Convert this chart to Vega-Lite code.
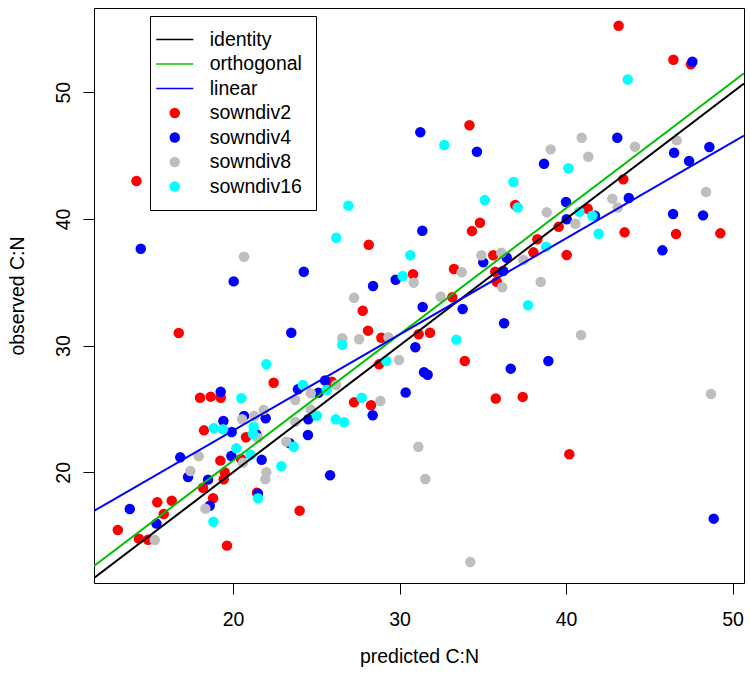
{
  "$schema": "https://vega.github.io/schema/vega-lite/v6.json",
  "width": 650,
  "height": 575,
  "autosize": {"type": "none"},
  "padding": {"left": 94, "top": 8, "right": 6, "bottom": 91},
  "background": "white",
  "config": {
    "view": {"stroke": "black", "strokeWidth": 1},
    "font": "Liberation Sans"
  },
  "datasets": {
    "points": [
      {"x": 14.2, "y": 43.0, "series": "sowndiv2"},
      {"x": 34.2, "y": 47.4, "series": "sowndiv2"},
      {"x": 36.95, "y": 41.1, "series": "sowndiv2"},
      {"x": 43.16, "y": 55.25, "series": "sowndiv2"},
      {"x": 46.45, "y": 52.57, "series": "sowndiv2"},
      {"x": 47.5, "y": 52.2, "series": "sowndiv2"},
      {"x": 43.44, "y": 43.13, "series": "sowndiv2"},
      {"x": 41.3, "y": 40.8, "series": "sowndiv2"},
      {"x": 39.56, "y": 39.38, "series": "sowndiv2"},
      {"x": 38.28, "y": 38.39, "series": "sowndiv2"},
      {"x": 38.04, "y": 37.36, "series": "sowndiv2"},
      {"x": 40.04, "y": 37.15, "series": "sowndiv2"},
      {"x": 43.52, "y": 38.94, "series": "sowndiv2"},
      {"x": 46.61, "y": 38.81, "series": "sowndiv2"},
      {"x": 49.27, "y": 38.86, "series": "sowndiv2"},
      {"x": 37.4, "y": 25.95, "series": "sowndiv2"},
      {"x": 40.2, "y": 21.42, "series": "sowndiv2"},
      {"x": 24.0, "y": 16.97, "series": "sowndiv2"},
      {"x": 27.27, "y": 25.52, "series": "sowndiv2"},
      {"x": 28.29, "y": 25.29, "series": "sowndiv2"},
      {"x": 35.78, "y": 25.82, "series": "sowndiv2"},
      {"x": 18.02, "y": 25.89, "series": "sowndiv2"},
      {"x": 18.66, "y": 25.97, "series": "sowndiv2"},
      {"x": 19.26, "y": 25.89, "series": "sowndiv2"},
      {"x": 18.26, "y": 23.31, "series": "sowndiv2"},
      {"x": 20.78, "y": 22.76, "series": "sowndiv2"},
      {"x": 20.48, "y": 21.05, "series": "sowndiv2"},
      {"x": 19.24, "y": 20.92, "series": "sowndiv2"},
      {"x": 19.5, "y": 20.0, "series": "sowndiv2"},
      {"x": 19.44, "y": 19.45, "series": "sowndiv2"},
      {"x": 18.2, "y": 18.78, "series": "sowndiv2"},
      {"x": 18.8, "y": 17.95, "series": "sowndiv2"},
      {"x": 19.64, "y": 14.21, "series": "sowndiv2"},
      {"x": 21.44, "y": 18.39, "series": "sowndiv2"},
      {"x": 15.45, "y": 17.63, "series": "sowndiv2"},
      {"x": 16.32, "y": 17.76, "series": "sowndiv2"},
      {"x": 15.84, "y": 16.71, "series": "sowndiv2"},
      {"x": 13.08, "y": 15.45, "series": "sowndiv2"},
      {"x": 14.35, "y": 14.76, "series": "sowndiv2"},
      {"x": 14.9, "y": 14.68, "series": "sowndiv2"},
      {"x": 16.74, "y": 31.0, "series": "sowndiv2"},
      {"x": 22.44, "y": 27.07, "series": "sowndiv2"},
      {"x": 34.83, "y": 39.7, "series": "sowndiv2"},
      {"x": 34.35, "y": 39.04, "series": "sowndiv2"},
      {"x": 28.15, "y": 37.96, "series": "sowndiv2"},
      {"x": 30.81, "y": 35.63, "series": "sowndiv2"},
      {"x": 27.79, "y": 32.75, "series": "sowndiv2"},
      {"x": 28.11, "y": 31.18, "series": "sowndiv2"},
      {"x": 28.91, "y": 30.62, "series": "sowndiv2"},
      {"x": 31.15, "y": 30.89, "series": "sowndiv2"},
      {"x": 31.83, "y": 31.02, "series": "sowndiv2"},
      {"x": 33.17, "y": 33.81, "series": "sowndiv2"},
      {"x": 33.27, "y": 36.05, "series": "sowndiv2"},
      {"x": 35.63, "y": 37.13, "series": "sowndiv2"},
      {"x": 35.75, "y": 35.83, "series": "sowndiv2"},
      {"x": 35.84, "y": 35.04, "series": "sowndiv2"},
      {"x": 33.92, "y": 28.78, "series": "sowndiv2"},
      {"x": 28.77, "y": 28.52, "series": "sowndiv2"},
      {"x": 25.93, "y": 27.15, "series": "sowndiv2"},

      {"x": 31.25, "y": 46.84, "series": "sowndiv4"},
      {"x": 34.65, "y": 45.3, "series": "sowndiv4"},
      {"x": 47.59, "y": 52.41, "series": "sowndiv4"},
      {"x": 43.08, "y": 46.41, "series": "sowndiv4"},
      {"x": 38.68, "y": 44.36, "series": "sowndiv4"},
      {"x": 46.49, "y": 45.23, "series": "sowndiv4"},
      {"x": 48.61, "y": 45.68, "series": "sowndiv4"},
      {"x": 47.39, "y": 44.57, "series": "sowndiv4"},
      {"x": 40.0, "y": 41.34, "series": "sowndiv4"},
      {"x": 43.77, "y": 41.65, "series": "sowndiv4"},
      {"x": 41.74, "y": 40.25, "series": "sowndiv4"},
      {"x": 40.04, "y": 39.97, "series": "sowndiv4"},
      {"x": 46.43, "y": 40.39, "series": "sowndiv4"},
      {"x": 48.23, "y": 40.28, "series": "sowndiv4"},
      {"x": 45.79, "y": 37.52, "series": "sowndiv4"},
      {"x": 38.94, "y": 28.78, "series": "sowndiv4"},
      {"x": 48.87, "y": 16.34, "series": "sowndiv4"},
      {"x": 25.83, "y": 19.76, "series": "sowndiv4"},
      {"x": 24.5, "y": 22.94, "series": "sowndiv4"},
      {"x": 24.52, "y": 24.18, "series": "sowndiv4"},
      {"x": 28.39, "y": 24.5, "series": "sowndiv4"},
      {"x": 30.37, "y": 26.3, "series": "sowndiv4"},
      {"x": 19.26, "y": 26.35, "series": "sowndiv4"},
      {"x": 19.42, "y": 24.05, "series": "sowndiv4"},
      {"x": 19.92, "y": 23.18, "series": "sowndiv4"},
      {"x": 20.66, "y": 24.45, "series": "sowndiv4"},
      {"x": 21.96, "y": 24.26, "series": "sowndiv4"},
      {"x": 21.4, "y": 23.0, "series": "sowndiv4"},
      {"x": 19.9, "y": 21.29, "series": "sowndiv4"},
      {"x": 21.72, "y": 20.98, "series": "sowndiv4"},
      {"x": 23.4, "y": 22.3, "series": "sowndiv4"},
      {"x": 16.83, "y": 21.18, "series": "sowndiv4"},
      {"x": 17.3, "y": 19.63, "series": "sowndiv4"},
      {"x": 18.5, "y": 19.42, "series": "sowndiv4"},
      {"x": 18.6, "y": 17.36, "series": "sowndiv4"},
      {"x": 21.5, "y": 18.3, "series": "sowndiv4"},
      {"x": 15.4, "y": 15.95, "series": "sowndiv4"},
      {"x": 13.8, "y": 17.1, "series": "sowndiv4"},
      {"x": 14.46, "y": 37.65, "series": "sowndiv4"},
      {"x": 20.04, "y": 35.07, "series": "sowndiv4"},
      {"x": 24.25, "y": 35.83, "series": "sowndiv4"},
      {"x": 23.5, "y": 31.02, "series": "sowndiv4"},
      {"x": 23.9, "y": 26.55, "series": "sowndiv4"},
      {"x": 31.37, "y": 39.07, "series": "sowndiv4"},
      {"x": 29.77, "y": 35.2, "series": "sowndiv4"},
      {"x": 28.41, "y": 34.7, "series": "sowndiv4"},
      {"x": 30.95, "y": 29.87, "series": "sowndiv4"},
      {"x": 31.39, "y": 33.05, "series": "sowndiv4"},
      {"x": 33.79, "y": 32.89, "series": "sowndiv4"},
      {"x": 35.03, "y": 36.57, "series": "sowndiv4"},
      {"x": 36.44, "y": 36.94, "series": "sowndiv4"},
      {"x": 36.22, "y": 35.89, "series": "sowndiv4"},
      {"x": 36.28, "y": 31.76, "series": "sowndiv4"},
      {"x": 31.47, "y": 27.89, "series": "sowndiv4"},
      {"x": 31.69, "y": 27.7, "series": "sowndiv4"},
      {"x": 36.68, "y": 28.18, "series": "sowndiv4"},
      {"x": 25.53, "y": 27.25, "series": "sowndiv4"},
      {"x": 25.13, "y": 26.28, "series": "sowndiv4"},

      {"x": 40.94, "y": 46.41, "series": "sowndiv8"},
      {"x": 39.08, "y": 45.49, "series": "sowndiv8"},
      {"x": 44.14, "y": 45.7, "series": "sowndiv8"},
      {"x": 41.34, "y": 44.91, "series": "sowndiv8"},
      {"x": 46.65, "y": 46.2, "series": "sowndiv8"},
      {"x": 48.41, "y": 42.12, "series": "sowndiv8"},
      {"x": 42.78, "y": 41.6, "series": "sowndiv8"},
      {"x": 43.1, "y": 40.9, "series": "sowndiv8"},
      {"x": 38.84, "y": 40.52, "series": "sowndiv8"},
      {"x": 40.56, "y": 39.62, "series": "sowndiv8"},
      {"x": 37.44, "y": 36.76, "series": "sowndiv8"},
      {"x": 38.48, "y": 35.02, "series": "sowndiv8"},
      {"x": 40.9, "y": 30.84, "series": "sowndiv8"},
      {"x": 48.71, "y": 26.18, "series": "sowndiv8"},
      {"x": 31.13, "y": 22.02, "series": "sowndiv8"},
      {"x": 31.55, "y": 19.47, "series": "sowndiv8"},
      {"x": 34.25, "y": 12.92, "series": "sowndiv8"},
      {"x": 24.67, "y": 24.95, "series": "sowndiv8"},
      {"x": 28.85, "y": 25.63, "series": "sowndiv8"},
      {"x": 20.54, "y": 24.18, "series": "sowndiv8"},
      {"x": 21.28, "y": 24.44, "series": "sowndiv8"},
      {"x": 21.84, "y": 24.92, "series": "sowndiv8"},
      {"x": 23.74, "y": 25.71, "series": "sowndiv8"},
      {"x": 20.6, "y": 20.76, "series": "sowndiv8"},
      {"x": 22.0, "y": 20.0, "series": "sowndiv8"},
      {"x": 21.94, "y": 19.45, "series": "sowndiv8"},
      {"x": 23.2, "y": 22.42, "series": "sowndiv8"},
      {"x": 23.74, "y": 23.99, "series": "sowndiv8"},
      {"x": 17.94, "y": 21.26, "series": "sowndiv8"},
      {"x": 17.44, "y": 20.1, "series": "sowndiv8"},
      {"x": 18.34, "y": 17.13, "series": "sowndiv8"},
      {"x": 15.3, "y": 14.66, "series": "sowndiv8"},
      {"x": 20.66, "y": 37.02, "series": "sowndiv8"},
      {"x": 30.85, "y": 34.97, "series": "sowndiv8"},
      {"x": 27.27, "y": 33.78, "series": "sowndiv8"},
      {"x": 29.33, "y": 30.65, "series": "sowndiv8"},
      {"x": 26.56, "y": 30.58, "series": "sowndiv8"},
      {"x": 27.57, "y": 30.5, "series": "sowndiv8"},
      {"x": 32.47, "y": 33.86, "series": "sowndiv8"},
      {"x": 33.74, "y": 35.79, "series": "sowndiv8"},
      {"x": 34.92, "y": 37.13, "series": "sowndiv8"},
      {"x": 36.11, "y": 37.33, "series": "sowndiv8"},
      {"x": 36.17, "y": 34.6, "series": "sowndiv8"},
      {"x": 29.97, "y": 28.86, "series": "sowndiv8"},
      {"x": 26.19, "y": 26.89, "series": "sowndiv8"},
      {"x": 24.67, "y": 26.23, "series": "sowndiv8"},
      {"x": 21.5, "y": 22.7, "series": "sowndiv8"},

      {"x": 32.69, "y": 45.83, "series": "sowndiv16"},
      {"x": 36.84, "y": 42.91, "series": "sowndiv16"},
      {"x": 35.12, "y": 41.49, "series": "sowndiv16"},
      {"x": 37.1, "y": 40.9, "series": "sowndiv16"},
      {"x": 26.93, "y": 41.05, "series": "sowndiv16"},
      {"x": 43.71, "y": 51.0, "series": "sowndiv16"},
      {"x": 40.14, "y": 44.0, "series": "sowndiv16"},
      {"x": 40.8, "y": 40.57, "series": "sowndiv16"},
      {"x": 41.58, "y": 40.25, "series": "sowndiv16"},
      {"x": 38.8, "y": 37.81, "series": "sowndiv16"},
      {"x": 41.96, "y": 38.83, "series": "sowndiv16"},
      {"x": 37.72, "y": 33.18, "series": "sowndiv16"},
      {"x": 25.03, "y": 24.47, "series": "sowndiv16"},
      {"x": 26.17, "y": 24.18, "series": "sowndiv16"},
      {"x": 26.67, "y": 23.95, "series": "sowndiv16"},
      {"x": 27.73, "y": 25.89, "series": "sowndiv16"},
      {"x": 20.5, "y": 25.84, "series": "sowndiv16"},
      {"x": 18.84, "y": 23.47, "series": "sowndiv16"},
      {"x": 19.4, "y": 23.39, "series": "sowndiv16"},
      {"x": 21.24, "y": 23.6, "series": "sowndiv16"},
      {"x": 21.2, "y": 23.02, "series": "sowndiv16"},
      {"x": 20.2, "y": 21.89, "series": "sowndiv16"},
      {"x": 21.06, "y": 21.37, "series": "sowndiv16"},
      {"x": 22.9, "y": 20.47, "series": "sowndiv16"},
      {"x": 23.65, "y": 22.02, "series": "sowndiv16"},
      {"x": 21.5, "y": 17.95, "series": "sowndiv16"},
      {"x": 18.82, "y": 16.1, "series": "sowndiv16"},
      {"x": 22.0, "y": 28.52, "series": "sowndiv16"},
      {"x": 24.2, "y": 26.89, "series": "sowndiv16"},
      {"x": 26.2, "y": 38.52, "series": "sowndiv16"},
      {"x": 30.65, "y": 37.13, "series": "sowndiv16"},
      {"x": 30.19, "y": 35.49, "series": "sowndiv16"},
      {"x": 26.56, "y": 30.07, "series": "sowndiv16"},
      {"x": 33.41, "y": 30.47, "series": "sowndiv16"},
      {"x": 29.21, "y": 28.78, "series": "sowndiv16"},
      {"x": 25.63, "y": 26.5, "series": "sowndiv16"}
    ],
    "lines": [
      {"x": 11.65, "y": 11.65, "series": "identity"},
      {"x": 50.69, "y": 50.69, "series": "identity"},
      {"x": 11.65, "y": 12.6, "series": "orthogonal"},
      {"x": 50.69, "y": 51.5, "series": "orthogonal"},
      {"x": 11.65, "y": 16.95, "series": "linear"},
      {"x": 50.69, "y": 46.57, "series": "linear"}
    ]
  },
  "layer": [
    {
      "data": {"name": "points"},
      "mark": {"type": "point", "filled": true, "size": 110, "opacity": 1, "strokeWidth": 0},
      "encoding": {
        "x": {
          "field": "x", "type": "quantitative",
          "scale": {"domain": [11.65, 50.69], "nice": false, "zero": false},
          "axis": {
            "values": [20, 30, 40, 50], "domain": false, "grid": false,
            "tickColor": "black", "tickSize": 11, "tickWidth": 1,
            "labelFont": "Liberation Sans", "labelFontSize": 19.5, "labelColor": "black", "labelPadding": 16,
            "title": "predicted C:N", "titleFont": "Liberation Sans", "titleFontSize": 19.5,
            "titleFontWeight": "normal", "titleColor": "black", "titlePadding": 19
          }
        },
        "y": {
          "field": "y", "type": "quantitative",
          "scale": {"domain": [11.26, 56.65], "nice": false, "zero": false},
          "axis": {
            "values": [20, 30, 40, 50], "domain": false, "grid": false,
            "tickColor": "black", "tickSize": 11, "tickWidth": 1,
            "labelAngle": 270, "labelAlign": "center", "labelBaseline": "bottom",
            "labelFont": "Liberation Sans", "labelFontSize": 19.5, "labelColor": "black", "labelPadding": 10,
            "title": "observed C:N", "titleFont": "Liberation Sans", "titleFontSize": 19.5,
            "titleFontWeight": "normal", "titleColor": "black", "titlePadding": 26
          }
        },
        "color": {
          "field": "series", "type": "nominal",
          "scale": {
            "domain": ["identity", "orthogonal", "linear", "sowndiv2", "sowndiv4", "sowndiv8", "sowndiv16"],
            "range": ["#000000", "#00C000", "#0000FF", "#FF0000", "#0000FF", "#BEBEBE", "#00FFFF"]
          },
          "legend": {
            "orient": "none", "legendX": 56, "legendY": 8,
            "title": null,
            "strokeColor": "black", "fillColor": "white", "padding": 13.75,
            "labelFont": "Liberation Sans", "labelFontSize": 19.5, "labelColor": "black",
            "labelLimit": 300,
            "symbolSize": 100, "labelOffset": 25.25, "symbolOffset": 1.25, "rowPadding": 3.5,
            "encode": {
              "symbols": {
                "update": {
                  "shape": {"signal": "indexof(['identity','orthogonal','linear'], datum.value) >= 0 ? 'stroke' : 'circle'"},
                  "size": {"signal": "indexof(['identity','orthogonal','linear'], datum.value) >= 0 ? 1369 : 110"},
                  "stroke": {"signal": "scale('color', datum.value)"},
                  "fill": {"signal": "scale('color', datum.value)"},
                  "strokeWidth": {"signal": "indexof(['identity','orthogonal','linear'], datum.value) >= 0 ? 1.3 : 0"},
                  "opacity": {"value": 1}
                },
                "shape": {"value": {"expr": "indexof(['identity','orthogonal','linear'], datum.value) >= 0 ? 'stroke' : 'circle'"}},
                "size": {"value": {"expr": "indexof(['identity','orthogonal','linear'], datum.value) >= 0 ? 1369 : 110"}},
                "stroke": {"value": {"expr": "scale('color', datum.value)"}},
                "fill": {"value": {"expr": "scale('color', datum.value)"}},
                "strokeWidth": {"value": {"expr": "indexof(['identity','orthogonal','linear'], datum.value) >= 0 ? 1.3 : 0"}},
                "opacity": {"value": 1}
              }
            }
          }
        }
      }
    },
    {
      "data": {"name": "lines"},
      "mark": {"type": "line", "strokeWidth": 2, "clip": true},
      "encoding": {
        "x": {"field": "x", "type": "quantitative", "scale": {"domain": [11.65, 50.69], "nice": false, "zero": false}},
        "y": {"field": "y", "type": "quantitative", "scale": {"domain": [11.26, 56.65], "nice": false, "zero": false}},
        "color": {
          "field": "series", "type": "nominal",
          "legend": {
            "orient": "none", "legendX": 56, "legendY": 8,
            "title": null,
            "strokeColor": "black", "fillColor": "white", "padding": 13.75,
            "labelFont": "Liberation Sans", "labelFontSize": 19.5, "labelColor": "black",
            "labelLimit": 300,
            "symbolSize": 100, "labelOffset": 25.25, "symbolOffset": 1.25, "rowPadding": 3.5,
            "encode": {
              "symbols": {
                "update": {
                  "shape": {"signal": "indexof(['identity','orthogonal','linear'], datum.value) >= 0 ? 'stroke' : 'circle'"},
                  "size": {"signal": "indexof(['identity','orthogonal','linear'], datum.value) >= 0 ? 1369 : 110"},
                  "stroke": {"signal": "scale('color', datum.value)"},
                  "fill": {"signal": "scale('color', datum.value)"},
                  "strokeWidth": {"signal": "indexof(['identity','orthogonal','linear'], datum.value) >= 0 ? 1.3 : 0"},
                  "opacity": {"value": 1}
                },
                "shape": {"value": {"expr": "indexof(['identity','orthogonal','linear'], datum.value) >= 0 ? 'stroke' : 'circle'"}},
                "size": {"value": {"expr": "indexof(['identity','orthogonal','linear'], datum.value) >= 0 ? 1369 : 110"}},
                "stroke": {"value": {"expr": "scale('color', datum.value)"}},
                "fill": {"value": {"expr": "scale('color', datum.value)"}},
                "strokeWidth": {"value": {"expr": "indexof(['identity','orthogonal','linear'], datum.value) >= 0 ? 1.3 : 0"}},
                "opacity": {"value": 1}
              }
            }
          }
        }
      }
    }
  ]
}
